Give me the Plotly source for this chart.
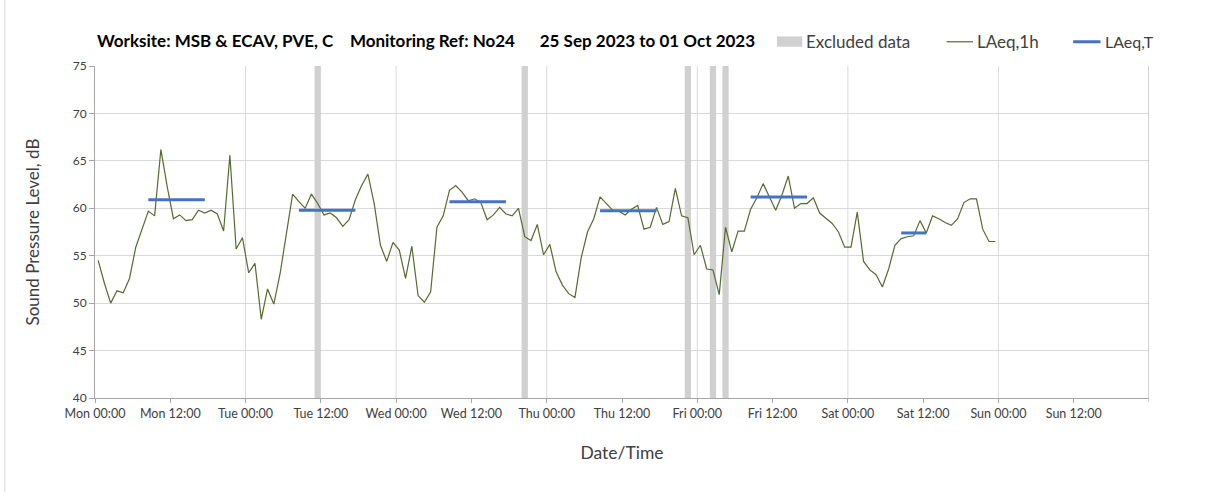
import pandas as pd
import plotly.graph_objects as go

# hourly LAeq,1h values (hour mid-points from Mon 25 Sep 2023 00:30)
start_time = "2023-09-25 00:30"
laeq_1h = [
    54.5, 52.1, 50.0, 51.3, 51.1, 52.6, 55.9, 57.9, 59.7, 59.2, 66.2, 62.3,
    58.9, 59.3, 58.7, 58.8, 59.8, 59.5, 59.8, 59.4, 57.6, 65.6, 55.7, 56.9,
    53.2, 54.2, 48.3, 51.5, 49.9, 53.1, 57.3, 61.5, 60.7, 60.0, 61.5, 60.5,
    59.3, 59.5, 59.0, 58.1, 58.8, 60.9, 62.4, 63.6, 60.5, 56.1, 54.4, 56.4,
    55.6, 52.6, 56.0, 50.8, 50.1, 51.2, 58.0, 59.2, 61.9, 62.4, 61.7, 60.8,
    61.0, 60.6, 58.8, 59.3, 60.1, 59.4, 59.2, 60.0, 57.0, 56.6, 58.3, 55.1,
    56.2, 53.3, 51.9, 51.0, 50.6, 54.8, 57.5, 58.9, 61.2, 60.5, 59.8, 59.7,
    59.3, 59.9, 60.3, 57.8, 58.0, 60.1, 58.3, 58.6, 62.1, 59.2, 59.0, 55.1,
    56.1, 53.6, 53.5, 50.9, 58.0, 55.4, 57.6, 57.6, 59.9, 61.1, 62.6, 61.2,
    59.8, 61.4, 63.4, 60.0, 60.5, 60.5, 61.1, 59.5, 58.9, 58.4, 57.5, 55.9,
    55.9, 59.6, 54.4, 53.5, 53.0, 51.7, 53.6, 56.1, 56.8, 57.0, 57.1, 58.7,
    57.4, 59.2, 58.9, 58.5, 58.2, 58.9, 60.6, 61.0, 61.0, 57.8, 56.5, 56.5,
]
times = pd.date_range(start_time, periods=len(laeq_1h), freq="h")

# excluded hours
excluded_times = ["2023-09-26 11:30", "2023-09-27 20:30", "2023-09-28 22:30",
                  "2023-09-29 02:30", "2023-09-29 04:30"]

# LAeq,T periods
laeqT_start = ["2023-09-25 08:30", "2023-09-26 08:30", "2023-09-27 08:30",
               "2023-09-28 08:30", "2023-09-29 08:30", "2023-09-30 08:30"]
laeqT_end = ["2023-09-25 17:30", "2023-09-26 17:30", "2023-09-27 17:30",
             "2023-09-28 17:30", "2023-09-29 17:30", "2023-09-30 12:30"]
laeqT_values = [60.9, 59.8, 60.7, 59.75, 61.2, 57.4]

x_start = "2023-09-25 00:00"
x_end = "2023-10-02 00:00"
tick_times = pd.date_range(x_start, "2023-10-01 12:00", freq="12h")
day_lines = pd.date_range("2023-09-26 00:00", "2023-10-01 00:00", freq="D")

font = "Lato"
line_green = "#556B2F"
blue = "#4472C4"
band_grey = "#D0D0D0"

fig = go.Figure()

fig.add_trace(go.Bar(
    x=excluded_times, y=[35] * len(excluded_times), base=40,
    width=3600 * 1000, marker=dict(color=band_grey, line=dict(width=0)),
    name="Excluded data", showlegend=False,
))

fig.add_trace(go.Scatter(
    x=times, y=laeq_1h, mode="lines", name="LAeq,1h",
    line=dict(color=line_green, width=1.2), showlegend=False,
))

tx, ty = [], []
for s, e, v in zip(laeqT_start, laeqT_end, laeqT_values):
    tx += [s, e, None]
    ty += [v, v, None]
fig.add_trace(go.Scatter(
    x=tx, y=ty, mode="lines", name="LAeq,T",
    line=dict(color=blue, width=3), showlegend=False,
))

shapes = []
for d in day_lines:
    shapes.append(dict(type="line", xref="x", yref="paper", x0=d, x1=d,
                       y0=0, y1=1, line=dict(color="#D9D9D9", width=1),
                       layer="below"))
shapes.append(dict(type="line", xref="x", yref="paper", x0=x_end, x1=x_end,
                   y0=-0.012, y1=1, line=dict(color="#A6A6A6", width=1)))
# chart border (left edge)
shapes.append(dict(type="line", xref="paper", yref="paper",
                   x0=-0.0855, x1=-0.0855, y0=-0.30, y1=1.25,
                   line=dict(color="#D9D9D9", width=1)))

# manual legend
legend_y = 1.073
shapes.append(dict(type="rect", xref="paper", yref="paper",
                   x0=0.647, x1=0.671, y0=legend_y - 0.015, y1=legend_y + 0.016,
                   fillcolor=band_grey, line=dict(width=0)))
shapes.append(dict(type="line", xref="paper", yref="paper",
                   x0=0.808, x1=0.833, y0=legend_y, y1=legend_y,
                   line=dict(color=line_green, width=1.2)))
shapes.append(dict(type="line", xref="paper", yref="paper",
                   x0=0.928, x1=0.954, y0=legend_y, y1=legend_y,
                   line=dict(color=blue, width=3)))

annotations = [
    dict(text="<b>Worksite: MSB &amp; ECAV, PVE, C&nbsp;&nbsp;&nbsp;&nbsp;Monitoring Ref: No24"
              "&nbsp;&nbsp;&nbsp;&nbsp;&nbsp;&nbsp;25 Sep 2023 to 01 Oct 2023</b>",
         xref="paper", yref="paper", x=0.0, y=1.076, xanchor="left",
         yanchor="middle", showarrow=False,
         font=dict(family=font, size=17, color="#000000")),
    dict(text="Excluded data", xref="paper", yref="paper", x=0.673, y=legend_y,
         xanchor="left", yanchor="middle", showarrow=False,
         font=dict(family=font, size=17, color="#404040")),
    dict(text="LAeq,1h", xref="paper", yref="paper", x=0.835, y=legend_y,
         xanchor="left", yanchor="middle", showarrow=False,
         font=dict(family=font, size=17, color="#404040")),
    dict(text="LAeq,T", xref="paper", yref="paper", x=0.956, y=legend_y,
         xanchor="left", yanchor="middle", showarrow=False,
         font=dict(family=font, size=16, color="#404040")),
]

fig.update_layout(
    width=1208, height=492,
    margin=dict(l=95, r=59, t=66, b=94),
    paper_bgcolor="white", plot_bgcolor="white",
    barmode="overlay", showlegend=False,
    shapes=shapes, annotations=annotations,
    font=dict(family=font, color="#404040"),
)
fig.update_xaxes(
    type="date", range=[x_start, x_end], automargin=False,
    tickvals=tick_times, tickformat="%a %H:%M",
    showgrid=False, showline=True, linecolor="#A6A6A6", linewidth=1,
    ticks="outside", ticklen=4, tickcolor="#A6A6A6",
    tickfont=dict(family=font, size=12.5, color="#404040"),
    title=dict(text="Date/Time", font=dict(family=font, size=17.5, color="#404040"),
               standoff=26),
    zeroline=False,
)
fig.update_yaxes(
    range=[40, 75], dtick=5, tick0=40, automargin=False,
    showgrid=True, gridcolor="#D9D9D9", gridwidth=1,
    showline=True, linecolor="#A6A6A6", linewidth=1,
    ticks="outside", ticklen=5, tickcolor="#A6A6A6",
    tickfont=dict(family=font, size=12, color="#404040"),
    title=dict(text="Sound Pressure Level, dB",
               font=dict(family=font, size=17, color="#404040"), standoff=28),
    zeroline=False,
)

# drop the default page margin so the figure sits at the window corner
fig.write_html("out.html", config={"displayModeBar": False},
               post_script="document.body.style.margin='0px';")
